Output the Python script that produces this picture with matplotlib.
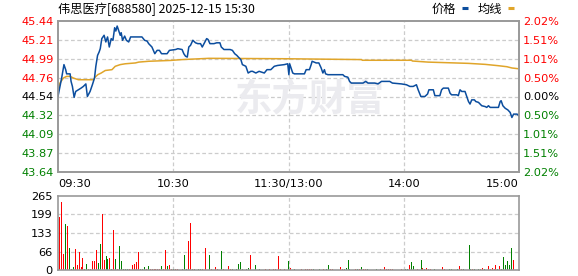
import numpy as np
import matplotlib
matplotlib.use("Agg")
from matplotlib import pyplot as plt
from matplotlib.lines import Line2D

plt.rcParams['font.family'] = ['DejaVu Sans', 'Noto Sans CJK SC']

# price line, (minute from 09:30, price)
price_t = [0, 0.5, 1.9, 3.1, 4.0, 4.5, 6.3, 6.8, 7.5, 8.4, 9.2, 10.6, 12.0, 13.2, 14.5, 15.3,
           16.7, 17.9, 19.0, 19.7, 20.6, 21.4, 22.0, 22.8, 24.0, 24.9, 25.8, 26.7, 27.7, 28.6,
           29.5, 30.1, 30.8, 31.5, 32.4, 32.9, 33.6, 34.7, 35.6, 36.8, 37.8, 43.7, 45.1, 46.4,
           47.2, 48.9, 50.4, 51.6, 52.8, 53.9, 56.8, 58.0, 61.2, 62.4, 64.6, 65.5, 66.4, 67.3,
           68.1, 69.0, 70.2, 71.6, 72.8, 74.2, 75.1, 76.0, 77.4, 78.1, 79.1, 81.2, 82.6, 84.3,
           85.0, 86.4, 89.6, 90.8, 92.0, 93.1, 93.9, 95.2, 96.0, 97.8, 99.0, 100.4, 101.3, 103.0,
           104.7, 107.4, 108.8, 110.8, 112.6, 114.3, 117.8, 119.6, 120.2, 120.6, 121.3, 122.2,
           123.1, 128.3, 129.2, 130.9, 131.8, 132.3, 134.4, 135.8, 137.0, 137.9, 138.7, 139.3,
           140.5, 148.3, 149.2, 150.9, 151.8, 152.7, 158.8, 160.2, 161.4, 164.9, 166.6, 168.4,
           171.0, 172.7, 174.1, 178.8, 181.4, 183.2, 184.9, 186.6, 187.5, 188.9, 191.0, 192.4,
           193.1, 195.4, 196.2, 198.8, 199.7, 200.6, 203.2, 204.1, 204.9, 207.6, 208.4, 209.3,
           210.2, 211.9, 212.8, 213.7, 214.5, 215.4, 216.8, 217.5, 218.9, 220.6, 222.4, 223.2,
           224.1, 225.0, 226.2, 229.3, 230.2, 230.7, 231.6, 232.8, 234.2, 235.4, 236.3, 237.2,
           239.0, 240.0]
price_v = [44.54, 44.60, 44.76, 44.92, 44.86, 44.81, 44.81, 44.72, 44.66, 44.53, 44.60, 44.62,
           44.64, 44.66, 44.69, 44.54, 44.60, 44.68, 44.76, 44.90, 45.03, 45.07, 45.11, 45.23,
           45.27, 45.19, 45.25, 45.13, 45.23, 45.21, 45.36, 45.32, 45.38, 45.33, 45.27, 45.30,
           45.21, 45.26, 45.21, 45.19, 45.25, 45.25, 45.21, 45.20, 45.17, 45.13, 45.05, 45.09,
           45.09, 45.05, 45.05, 45.09, 45.10, 45.11, 45.10, 45.05, 45.02, 45.01, 45.13, 45.15,
           45.21, 45.18, 45.17, 45.17, 45.13, 45.17, 45.23, 45.22, 45.17, 45.17, 45.18, 45.18,
           45.13, 45.10, 45.10, 45.09, 45.05, 45.03, 45.01, 44.98, 44.92, 44.90, 44.82, 44.84,
           44.84, 44.82, 44.84, 44.82, 44.86, 44.86, 44.90, 44.91, 44.92, 44.93, 44.80, 44.93,
           44.88, 44.82, 44.81, 44.81, 44.86, 44.86, 44.92, 44.96, 44.94, 44.94, 44.88, 44.82,
           44.86, 44.81, 44.80, 44.80, 44.78, 44.77, 44.72, 44.70, 44.70, 44.72, 44.70, 44.70,
           44.69, 44.72, 44.72, 44.72, 44.70, 44.69, 44.68, 44.66, 44.66, 44.68, 44.62, 44.54,
           44.54, 44.57, 44.62, 44.62, 44.55, 44.55, 44.62, 44.64, 44.64, 44.58, 44.56, 44.56,
           44.55, 44.62, 44.60, 44.60, 44.54, 44.48, 44.45, 44.50, 44.50, 44.48, 44.47, 44.43,
           44.42, 44.41, 44.43, 44.41, 44.41, 44.41, 44.48, 44.49, 44.43, 44.40, 44.38, 44.35,
           44.29, 44.33, 44.33, 44.31]

# average price line
avg_t = [0, 1.0, 2.8, 4.5, 6.3, 8.0, 10.6, 18.5, 19.3, 20.7, 22.5, 24.6, 28.1, 29.8, 32.4,
         35.0, 40.3, 42.0, 47.2, 58.6, 64.6, 78.6, 118.7, 158.0, 158.4, 184.0, 184.5, 192.7,
         213.7, 222.4, 229.3, 233.7, 236.3, 240.0]
avg_v = [44.60, 44.70, 44.76, 44.78, 44.78, 44.76, 44.74, 44.74, 44.77, 44.80, 44.82, 44.85,
         44.86, 44.90, 44.92, 44.93, 44.94, 44.95, 44.96, 44.97, 44.98, 44.995, 44.99, 44.98,
         44.972, 44.972, 44.963, 44.95, 44.935, 44.923, 44.907, 44.895, 44.88, 44.87]

# volume per minute (241 bars) and bar colour (r = up, g = down)
volume = [0, 191, 244, 57, 165, 158, 79, 5, 12, 75,
          19, 64, 12, 43, 4, 22, 4, 4, 33, 33,
          72, 25, 93, 199, 36, 50, 39, 43, 4, 143,
          39, 4, 86, 32, 2, 4, 4, 2, 12, 19,
          22, 29, 64, 4, 4, 12, 4, 14, 4, 4,
          4, 4, 4, 2, 14, 4, 72, 14, 19, 4,
          4, 3, 3, 3, 0, 5, 54, 3, 104, 168,
          3, 3, 0, 3, 3, 3, 3, 79, 0, 54,
          3, 0, 11, 3, 0, 68, 3, 0, 0, 14,
          3, 3, 0, 3, 21, 29, 3, 0, 4, 7,
          54, 3, 0, 18, 0, 3, 0, 0, 3, 0,
          3, 0, 3, 3, 0, 50, 3, 0, 3, 0,
          32, 8, 0, 3, 0, 0, 0, 3, 0, 3,
          3, 3, 3, 3, 0, 0, 3, 0, 3, 3,
          3, 18, 3, 3, 0, 0, 0, 11, 3, 3,
          8, 36, 3, 0, 0, 3, 3, 3, 11, 3,
          3, 3, 0, 0, 3, 0, 3, 0, 3, 0,
          11, 3, 3, 3, 3, 0, 0, 23, 0, 3,
          0, 3, 3, 18, 29, 14, 0, 3, 0, 36,
          8, 3, 8, 3, 3, 0, 3, 0, 0, 0,
          11, 3, 0, 0, 3, 3, 0, 0, 3, 14,
          3, 3, 0, 0, 90, 3, 3, 3, 0, 3,
          3, 8, 3, 0, 14, 3, 8, 3, 18, 3,
          14, 3, 48, 18, 32, 18, 77, 36, 0, 0, 111]
vol_dir = ("rrrrgrgggr" "rrrrggrrrr" "rggrrggrgr" "grgggggrrr" "rrrgggrgrr"
           "rrrrgrrgrr" "grrrrgggrr" "rgrggrrrrg" "rrrrrgrrrr" "rgrggggrgg"
           "rrrgrgrrrr" "rrrrrrrrrr" "grrgrrrrrr" "rrrgrrgrrr" "ggrrrrrrrg"
           "gggrrrgrgr" "rgrrgrgrrr" "rrrrrrrrrr" "rggrggrrrg" "rrrrrrgrrr"
           "rrrrggrrgr" "rgrrggrgrg" "rrgrrrrrrg" "rggggggrrrg")

price_ticks = [45.44, 45.21, 44.99, 44.76, 44.54, 44.32, 44.09, 43.87, 43.64]
pct_labels = ["2.02%", "1.51%", "1.01%", "0.50%", "0.00%", "0.50%", "1.01%", "1.51%", "2.02%"]
vol_ticks = [0, 66, 133, 199, 265]
time_ticks = [0, 60, 120, 180, 240]
time_labels = ["09:30", "10:30", "11:30/13:00", "14:00", "15:00"]
title = "伟思医疗[688580] 2025-12-15 15:30"

RED = "#ff0000"
GREEN = "#008000"
BLUE = "#0b4d9e"
GOLD = "#e0a52a"
FRAME = "#999999"
GRID = "#cccccc"

fig = plt.figure(figsize=(5.78, 2.76), dpi=100)
W, H = 578, 276


def box(x0, y0, x1, y1):
    return [x0 / W, 1 - y1 / H, (x1 - x0) / W, (y1 - y0) / H]


def tick_color(i, n):
    mid = n // 2
    if i < mid:
        return RED
    if i > mid:
        return GREEN
    return "black"


# main price panel
ax = fig.add_axes(box(58, 21, 519, 172))
lo, hi = price_ticks[-1], price_ticks[0]
ax.set_xlim(0, 240)
ax.set_ylim(lo, hi)
grid_y = np.linspace(hi, lo, len(price_ticks))
for y in grid_y[1:-1]:
    ax.axhline(y, color=GRID, lw=0.9, ls=(0, (3, 2)), zorder=0)
for x in time_ticks[1:-1]:
    ax.axvline(x, color=GRID, lw=0.9, ls=(0, (3, 2)), zorder=0)

# watermark
ax.text(131, 44.50, "东方财富", fontsize=27, fontweight="bold", color="#ebebef",
        family=["Noto Sans CJK SC"], ha="center", va="center", zorder=0)

ax.plot(avg_t, avg_v, color=GOLD, lw=1.1, zorder=2)
ax.plot(price_t, price_v, color=BLUE, lw=1.1, zorder=3)

ax.set_yticks(grid_y)
ax.set_yticklabels(["%.2f" % v for v in price_ticks])
for i, lab in enumerate(ax.get_yticklabels()):
    lab.set_color(tick_color(i, len(price_ticks)))
ax.set_xticks(time_ticks)
ax.set_xticklabels(time_labels)
xl = ax.get_xticklabels()
xl[0].set_ha("left")
xl[-1].set_ha("right")
ax.tick_params(length=0, labelsize=8.2, pad=3)
ax.tick_params(axis="x", pad=5)

ax2 = ax.twinx()
ax2.set_ylim(lo, hi)
ax2.set_yticks(grid_y)
ax2.set_yticklabels(pct_labels)
for i, lab in enumerate(ax2.get_yticklabels()):
    lab.set_color(tick_color(i, len(pct_labels)))
ax2.tick_params(length=0, labelsize=8.2, pad=3)

for a in (ax, ax2):
    for s in a.spines.values():
        s.set_color(FRAME)
        s.set_linewidth(1.2)

# title and legend
ty = 1 - 9 / H
fig.text(58 / W, ty, title, fontsize=8.8, family=["Noto Sans CJK SC", "DejaVu Sans"],
         ha="left", va="center")
fig.text(432 / W, ty, "价格", fontsize=8.8, family=["Noto Sans CJK SC"],
         ha="left", va="center")
fig.text(478 / W, ty, "均线", fontsize=8.8, family=["Noto Sans CJK SC"],
         ha="left", va="center")
for x0, c in ((462, BLUE), (508, GOLD)):
    fig.add_artist(Line2D([x0 / W, (x0 + 6) / W], [1 - 7.5 / H, 1 - 7.5 / H],
                          color=c, lw=2.2, solid_capstyle="butt"))

# volume panel
av = fig.add_axes(box(58, 196, 519, 270))
av.set_xlim(0, 240)
av.set_ylim(0, vol_ticks[-1])
for y in vol_ticks[1:-1]:
    av.axhline(y, color=GRID, lw=0.9, ls=(0, (3, 2)), zorder=0)
for x in time_ticks[1:-1]:
    av.axvline(x, color=GRID, lw=0.9, ls=(0, (3, 2)), zorder=0)
minutes = np.arange(len(volume))
colors = [RED if c == "r" else GREEN for c in vol_dir]
av.bar(minutes, volume, width=0.5, color=colors, linewidth=0, zorder=2)
av.set_yticks(vol_ticks)
av.set_yticklabels([str(v) for v in vol_ticks])
av.set_xticks([])
av.tick_params(length=0, labelsize=8.2, pad=4)
for s in av.spines.values():
    s.set_color(FRAME)
    s.set_linewidth(1.2)

fig.savefig("out.png", dpi=100)
